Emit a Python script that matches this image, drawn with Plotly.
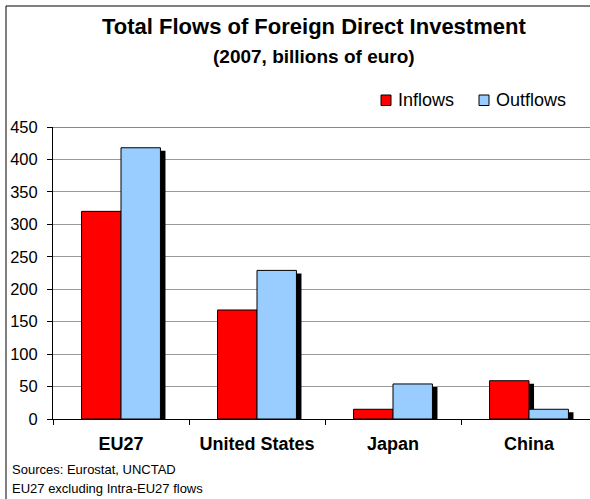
import plotly.graph_objects as go

categories = ["EU27", "United States", "Japan", "China"]
inflows = [320, 168, 15, 59]
outflows = [418, 229, 54, 15]
y_ticks = [0, 50, 100, 150, 200, 250, 300, 350, 400, 450]
series_names = ["Inflows", "Outflows"]

FONT = "Liberation Sans, Arial, sans-serif"
RED = "#ff0000"
BLUE = "#99ccff"
BW = 0.29          # bar width in category units
SX = 0.037         # shadow x shift (category units)
SY = 4.6           # shadow y drop (data units)

fig = go.Figure()
fig.add_trace(go.Bar(x=categories, y=[v - SY for v in inflows], width=BW, offset=-BW + SX,
                     marker=dict(color="black", line=dict(width=0)), showlegend=False, hoverinfo="skip"))
fig.add_trace(go.Bar(x=categories, y=inflows, width=BW, offset=-BW, name=series_names[0],
                     marker=dict(color=RED, line=dict(color="black", width=1))))
fig.add_trace(go.Bar(x=categories, y=[v - SY for v in outflows], width=BW, offset=SX,
                     marker=dict(color="black", line=dict(width=0)), showlegend=False, hoverinfo="skip"))
fig.add_trace(go.Bar(x=categories, y=outflows, width=BW, offset=0, name=series_names[1],
                     marker=dict(color=BLUE, line=dict(color="black", width=1))))

W, H = 590, 499
L, R, T, B = 53, 0, 127, 80
pw = W - L - R
ph = H - T - B

def px(xp):
    return (xp - L) / pw

def py(yp):
    return (H - B - yp) / ph

annotations = [
    dict(text="<b>Total Flows of Foreign Direct Investment</b>", x=px(314), y=py(27),
         font=dict(family=FONT, size=22), xanchor="center"),
    dict(text="<b>(2007, billions of euro)</b>", x=px(314), y=py(57),
         font=dict(family=FONT, size=19), xanchor="center"),
    dict(text="Sources: Eurostat, UNCTAD", x=px(10), y=py(469),
         font=dict(family=FONT, size=13), xanchor="left"),
    dict(text="EU27 excluding Intra-EU27 flows", x=px(10), y=py(488),
         font=dict(family=FONT, size=13), xanchor="left"),
    dict(text=series_names[0], x=px(396), y=py(99.5),
         font=dict(family=FONT, size=18), xanchor="left"),
    dict(text=series_names[1], x=px(494), y=py(99.5),
         font=dict(family=FONT, size=18), xanchor="left"),
]
for a in annotations:
    a.update(xref="paper", yref="paper", showarrow=False, yanchor="middle")

shapes = [
    dict(type="line", xref="paper", yref="paper", x0=px(6), x1=px(6), y0=py(6), y1=py(499),
         line=dict(color="black", width=1)),
    dict(type="line", xref="paper", yref="paper", x0=px(6), x1=px(590), y0=py(6), y1=py(6),
         line=dict(color="black", width=1)),
    dict(type="line", xref="paper", yref="y", x0=0, x1=1, y0=450, y1=450,
         line=dict(color="#888888", width=2)),
    # legend swatches
    dict(type="rect", xref="paper", yref="paper", x0=px(381), x1=px(391), y0=py(95), y1=py(105.5),
         fillcolor=RED, line=dict(color="black", width=1)),
    dict(type="rect", xref="paper", yref="paper", x0=px(479), x1=px(489), y0=py(95), y1=py(105.5),
         fillcolor=BLUE, line=dict(color="black", width=1)),
]

fig.update_layout(
    width=W, height=H,
    margin=dict(l=L, r=R, t=T, b=B),
    barmode="overlay",
    paper_bgcolor="white", plot_bgcolor="white",
    font=dict(family=FONT, color="black", size=14),
    showlegend=False,
    xaxis=dict(type="category", range=[-0.5, 3.5 - 7 / 136], showgrid=False,
               showline=True, linecolor="black", linewidth=1,
               ticks="outside", tickson="boundaries", ticklen=5, tickcolor="black",
               ticklabelstandoff=8,
               tickfont=dict(family=FONT, size=18, weight="bold"), fixedrange=True),
    yaxis=dict(range=[0, 450], tickvals=y_ticks, showgrid=True, gridcolor="#999999", gridwidth=1,
               showline=True, linecolor="black", linewidth=1, ticks="outside", ticklen=5,
               tickcolor="black", tickfont=dict(family=FONT, size=16.5), zeroline=False,
               ticklabelstandoff=6, fixedrange=True),
    annotations=annotations,
    shapes=shapes,
)

fig.write_html("out.html")
